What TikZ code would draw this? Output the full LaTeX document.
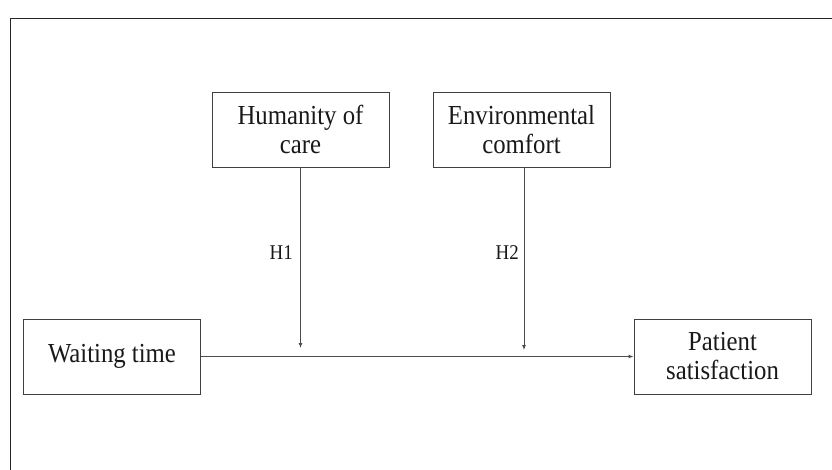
\documentclass[tikz,border=0pt]{standalone}
\usepackage{fontspec}
\setmainfont{Liberation Serif}[FakeStretch=0.9]
\usetikzlibrary{arrows.meta}
\begin{document}
\begin{tikzpicture}[x=1pt,y=-1pt,
  box/.style={draw=black!75,line width=0.9pt,minimum width=177pt,minimum height=75pt,inner sep=0pt,align=center,
    font=\fontsize{27.5}{29}\selectfont,text=black!90},
  conn/.style={draw=black!70,line width=0.9pt,-{Latex[length=5pt,width=4pt]}},
  lbl/.style={font=\fontsize{21}{26}\selectfont,text=black!90,inner sep=0pt,anchor=east}]
\useasboundingbox (0,0) rectangle (832,470);
\fill[white] (0,0) rectangle (832,470);
\draw[black!85,line width=1.4pt] (10.5,18.5) rectangle (845,485);
\node[box] (hum) at (300.5,129.5) {Humanity of\\care};
\node[box] (env) at (521.5,130) {Environmental\\comfort};
\node[box] (wait) at (112,356.5) {Waiting time};
\node[box] (pat) at (722.5,356.5) {Patient\\satisfaction};
\coordinate (t1) at (300.5,348);
\coordinate (s2) at (524,167.5);
\coordinate (t2) at (524,350);
\draw[conn] (hum.south) -- (t1);
\draw[conn] (s2) -- (t2);
\draw[conn] (wait.east) -- (pat.west);
\node[lbl] (h1) at (293,253) {H1};
\node[lbl] (h2) at (519,253) {H2};
\end{tikzpicture}
\end{document}
